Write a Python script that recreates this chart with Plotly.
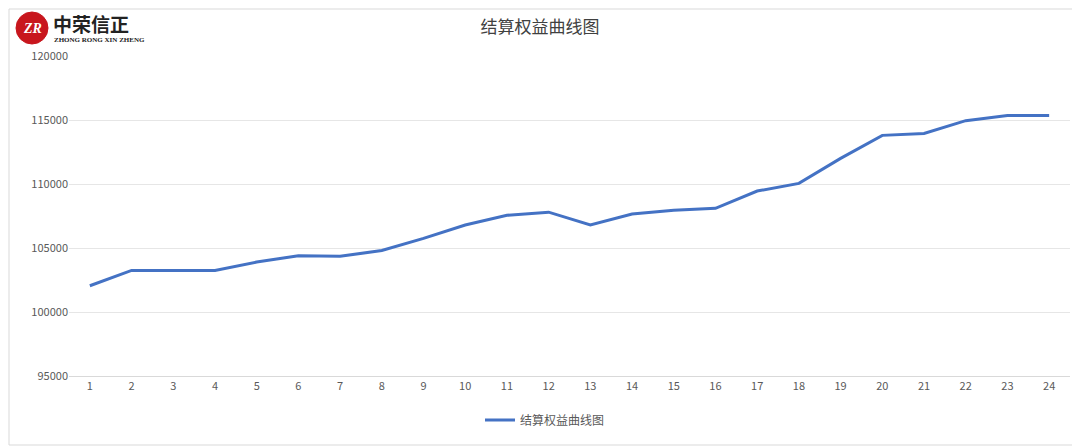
import plotly.graph_objects as go

periods = [str(i) for i in range(1, 25)]
equity = [102050, 103250, 103250, 103250, 103900, 104400, 104350, 104800,
          105750, 106800, 107550, 107800, 106800, 107650, 107950, 108100,
          109450, 110050, 112000, 113800, 113950, 114950, 115350, 115350]
y_ticks = [95000, 100000, 105000, 110000, 115000, 120000]

# page has an 8px body margin, so the figure starts at (8, 8)
O = 8
W, H = 1080 - O, 447 - O
L, R, T, B = 69 - O, 10, 56 - O, 71


def px(x):
    return (x - 69) / 1001


def py(y):
    return (376 - y) / 320


fig = go.Figure()
fig.add_trace(go.Scatter(x=periods, y=equity, mode='lines', name='结算权益曲线图',
                         line=dict(color='#4472C4', width=3)))

# logo
fig.add_shape(type='circle', xref='paper', yref='paper',
              x0=px(16), x1=px(48), y0=py(44), y1=py(12),
              fillcolor='#C8161D', line=dict(color='#C8161D', width=1))
fig.add_annotation(xref='paper', yref='paper', x=px(32), y=py(28), xanchor='center', yanchor='middle',
                   text='<b><i>ZR</i></b>', showarrow=False,
                   font=dict(color='white', size=14, family='Liberation Serif'))
fig.add_annotation(xref='paper', yref='paper', x=px(51), y=py(24), xanchor='left', yanchor='middle',
                   text='<b>中荣信正</b>', showarrow=False,
                   font=dict(color='#222', size=19, family='Noto Sans CJK SC'))
fig.add_annotation(xref='paper', yref='paper', x=px(52), y=py(40), xanchor='left', yanchor='middle',
                   text='<b>ZHONG RONG XIN ZHENG</b>', showarrow=False,
                   font=dict(color='#222', size=7, family='Liberation Serif'))

fig.update_layout(
    width=W, height=H,
    margin=dict(l=L, r=R, t=T, b=B, autoexpand=False),
    paper_bgcolor='white', plot_bgcolor='white',
    title=dict(text='结算权益曲线图', x=px(540), xref='paper', xanchor='center',
               y=1 - (27 - O) / H, yanchor='middle',
               font=dict(size=17, color='#404040', family='Noto Sans CJK SC')),
    font=dict(family='Noto Sans CJK SC', color='#595959', size=11),
    showlegend=True,
    legend=dict(orientation='h', x=px(545), xanchor='center', y=py(420), yanchor='middle',
                font=dict(size=12, color='#595959')),
    xaxis=dict(type='category', showgrid=False, showline=True, linecolor='#D9D9D9',
               ticks='', range=[-0.5, 23.5]),
    yaxis=dict(range=[95000, 120000], tickvals=y_ticks, gridcolor='#E6E6E6',
               zeroline=False, ticksuffix='  ', tickformat='d'),
)
fig.add_shape(type='rect', xref='paper', yref='paper', x0=px(9), x1=px(1078),
              y0=py(445), y1=py(9), line=dict(color='#D9D9D9', width=1),
              fillcolor='rgba(0,0,0,0)', layer='below')

fig.write_html("out.html")
